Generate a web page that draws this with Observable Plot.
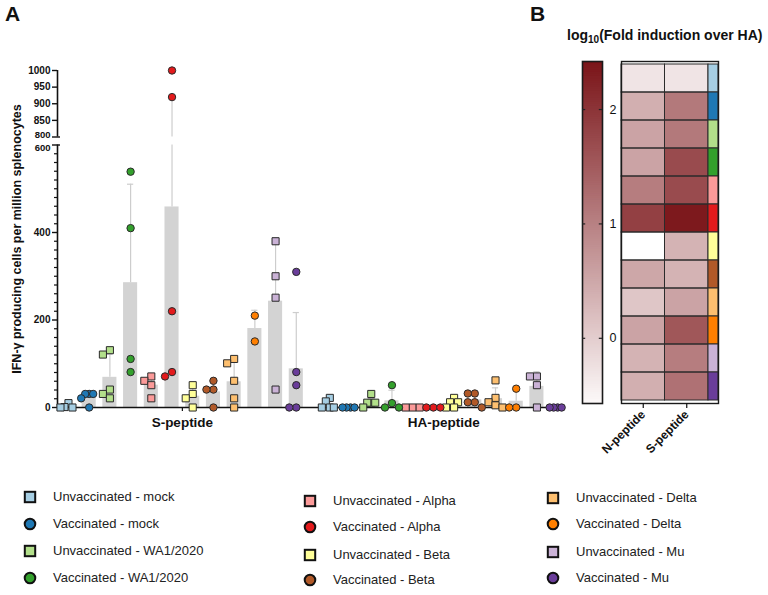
<!DOCTYPE html>
<html><head><meta charset="utf-8">
<script src="https://cdn.jsdelivr.net/npm/d3@7"></script>
<script src="https://cdn.jsdelivr.net/npm/@observablehq/plot@0.6"></script>
<style>
html,body{margin:0;padding:0;background:#fff;}
#root{position:relative;width:768px;height:595px;font-family:"Liberation Sans",Arial,Helvetica,sans-serif;overflow:hidden;color:#111}
.abs{position:absolute}
.panel{font-weight:bold;font-size:21px;line-height:21px}
.ttl{font-weight:bold;font-size:14px;white-space:nowrap;line-height:16px}
.ttl sub{font-size:10px;vertical-align:-3px;line-height:0}
.lg{font-size:13px;line-height:16px;white-space:nowrap;color:#222}
g[aria-label="y-axis tick label"], g[aria-label="x-axis tick label"]{font-weight:bold}
</style></head><body><div id="root"></div>
<script>
// ---------------- data ----------------
const groups = [
  "Unvaccinated - mock", "Vaccinated - mock",
  "Unvaccinated - WA1/2020", "Vaccinated - WA1/2020",
  "Unvaccinated - Alpha", "Vaccinated - Alpha",
  "Unvaccinated - Beta", "Vaccinated - Beta",
  "Unvaccinated - Delta", "Vaccinated - Delta",
  "Unvaccinated - Mu", "Vaccinated - Mu"
];
const groupColors = [
  "#a6cee3", "#1f78b4", "#b2df8a", "#33a02c", "#fb9a99", "#e31a1c",
  "#ffff99", "#b15928", "#fdbf6f", "#ff7f00", "#cab2d6", "#6a3d9a"
];
// IFN-γ producing cells per million splenocytes (one value per mouse)
const sPeptide = [
  [10, 1, 0, 0],
  [31, 31, 31, 21, 0],
  [131, 121, 41, 31, 21],
  [539, 410, 111, 81],
  [71, 61, 51, 21],
  [1000, 920, 220, 81, 71],
  [51, 31, 21, 0],
  [61, 41, 41, 0],
  [111, 101, 61, 21, 0],
  [210, 151],
  [380, 300, 251, 41],
  [310, 81, 51, 0, 0]
];
const haPeptide = [
  [22, 14, 0, 0, 0],
  [0, 0, 0, 0],
  [31, 11, 11, 11, 0],
  [51, 10, 0, 0],
  [0, 0, 0],
  [0, 0, 0],
  [22, 12, 12, 0, 0],
  [32, 32, 12, 12, 0],
  [62, 22, 12, 5, 0],
  [43, 0, 0],
  [71, 71, 51, 0],
  [0, 0, 0, 0]
];
const peptideLabels = ["S-peptide", "HA-peptide"];
const yMajorTicks = [0, 200, 400, 600, 800, 850, 900, 950, 1000];
const yMinorStep = 20;
// Panel B: log10(fold induction over HA)
const heatColumns = ["N-peptide", "S-peptide"];
const heatN = [-0.3, 0.4, 0.55, 0.55, 1.05, 1.85, null, 0.5, 0.1, 0.55, 0.35, 0.4];
const heatS = [-0.3, 1.1, 1.1, 1.7, 1.7, 2.35, 0.35, 0.35, 0.55, 1.55, 1.05, 1.2];
const colorbarTicks = [0, 1, 2];
const colorDomain = [-0.57, 2.42];

// ---------------- layout helpers ----------------
const FONT = '"Liberation Sans", Arial, Helvetica, sans-serif';
const root = document.getElementById("root");
function place(node, left, top) {
  const d = document.createElement("div");
  d.className = "abs"; d.style.left = left + "px"; d.style.top = top + "px";
  d.appendChild(node); root.appendChild(d); return d;
}
function html(cls, text, left, top, isHtml) {
  const d = document.createElement("div");
  d.className = "abs " + cls; d.style.left = left + "px"; d.style.top = top + "px";
  if (isHtml) d.innerHTML = text; else d.textContent = text;
  root.appendChild(d); return d;
}
const vaccinated = groups.map(g => g.startsWith("Vaccinated"));

// broken y axis: linear below 600, compressed above 800
const PX_LOW = 0.4375, PX_HIGH = 0.3325, GAP_PX = 8;
const BREAK_LO = 600, BREAK_HI = 800, YMAX = 1000;
function t(v) {
  if (v <= BREAK_LO) return v;
  return BREAK_LO + GAP_PX / PX_LOW + (Math.max(v, BREAK_HI) - BREAK_HI) * PX_HIGH / PX_LOW;
}
const T_MAX = t(YMAX);

const XPX = 20.71, X0 = -0.53, X1 = 24.0, HA_OFFSET = 12.62;

function dodge(vals) {
  const placed = [], step = 7, dmin = 7;
  const out = vals.map(v => {
    const y = t(v) * PX_LOW;
    for (const k of [0, -1, 1, -2, 2, -3, 3]) {
      const x = k * step;
      if (placed.every(p => (p.x - x) ** 2 + (p.y - y) ** 2 >= dmin * dmin)) { placed.push({x, y}); return x; }
    }
    return 0;
  });
  const m = d3.max(out, Math.abs) || 0;
  const s = m > 8 ? 8 / m : 1;
  return out.map(x => x * s);
}

const stats = [], points = [], errSegs = [], caps = [];
[sPeptide, haPeptide].forEach((arr, p) => arr.forEach((vals, i) => {
  const pos = i + p * HA_OFFSET;
  const mean = d3.mean(vals), sd = vals.length > 1 ? d3.deviation(vals) : 0;
  stats.push({pos, mean, sd});
  const offs = dodge(vals);
  vals.forEach((v, j) => points.push({x: pos + offs[j] / XPX, y: t(v), color: groupColors[i], vacc: vaccinated[i]}));
  if (sd > 0) {
    const top = mean + sd;
    if (top <= BREAK_LO) errSegs.push({x: pos, y1: t(mean), y2: t(top)});
    else {
      errSegs.push({x: pos, y1: t(mean), y2: t(BREAK_LO)});
      if (top >= BREAK_HI) errSegs.push({x: pos, y1: t(BREAK_HI), y2: t(top)});
    }
    caps.push({x: pos, y: t(top)});
  }
}));
// the two labels at the break are drawn apart from the others so they do not collide
const breakLabels = [BREAK_LO, BREAK_HI];
const labelOf = new Map(yMajorTicks.filter(v => !breakLabels.includes(v)).map(v => [t(v), String(v)]));
const minorTicks = d3.range(0, BREAK_LO + 1, yMinorStep).filter(v => !yMajorTicks.includes(v));
const peptideCenters = [5.5, 5.5 + HA_OFFSET];
const axisSegments = [{y1: 0, y2: t(BREAK_LO)}, {y1: t(BREAK_HI), y2: t(YMAX)}];

// ---------------- Panel A ----------------
const plotA = Plot.plot({
  width: 565, height: 440, marginLeft: 57, marginRight: 0, marginTop: 70, marginBottom: 33,
  style: {fontFamily: FONT, fontSize: "10px", color: "#111", background: "transparent", overflow: "visible"},
  x: {domain: [X0, X1], axis: null},
  y: {domain: [0, T_MAX]},
  color: {type: "identity"},
  marks: [
    Plot.rect(stats, {x1: d => d.pos - 0.34, x2: d => d.pos + 0.34, y1: 0, y2: d => t(d.mean), fill: "#d3d3d3"}),
    Plot.ruleX(errSegs, {x: "x", y1: "y1", y2: "y2", stroke: "#cdcdcd", strokeWidth: 1.2}),
    Plot.ruleY(caps, {x1: d => d.x - 0.15, x2: d => d.x + 0.15, y: "y", stroke: "#cdcdcd", strokeWidth: 1.2}),
    Plot.ruleY([0], {x1: X0, x2: X1, stroke: "#111", strokeWidth: 1.6}),
    Plot.ruleX(axisSegments, {x: X0, y1: "y1", y2: "y2", stroke: "#111", strokeWidth: 1.6}),
    Plot.ruleY([t(BREAK_LO), t(BREAK_HI)], {x1: X0, x2: X0 + 3 / XPX, stroke: "#111", strokeWidth: 1.4}),
    Plot.axisY({ticks: yMajorTicks.map(t), tickFormat: d => labelOf.get(d) ?? "", tickSize: 5, tickPadding: 2, fontSize: 10, fontWeight: "bold", label: null, strokeWidth: 1.4}),
    Plot.axisY({ticks: minorTicks.map(t), tickFormat: () => "", tickSize: 3, label: null, strokeWidth: 1.2}),
    Plot.text([BREAK_HI], {x: X0, y: d => t(d), text: d => String(d), dx: -7, dy: -2.5, textAnchor: "end", fontSize: 9.5, fontWeight: "bold"}),
    Plot.text([BREAK_LO], {x: X0, y: d => t(d), text: d => String(d), dx: -7, dy: 2.5, textAnchor: "end", fontSize: 9.5, fontWeight: "bold"}),
    Plot.ruleX(peptideCenters, {x: d => d, y1: 0, y2: -9, stroke: "#111", strokeWidth: 1.2}),
    Plot.text(peptideLabels, {x: (d, i) => peptideCenters[i], y: 0, dy: 15, text: d => d, fontSize: 13.5, fontWeight: "bold"}),
    Plot.text(["IFN-\u03b3 producing cells per million splenocytes"], {frameAnchor: "left", text: d => d, rotate: -90, dx: -41, textAnchor: "middle", fontSize: 12.5, fontWeight: "bold"}),
    Plot.dot(points.filter(d => !d.vacc), {x: "x", y: "y", symbol: "square", r: 4, fill: "color", stroke: "#2a2a2a", strokeWidth: 1}),
    Plot.dot(points.filter(d => d.vacc), {x: "x", y: "y", symbol: "circle", r: 3.7, fill: "color", stroke: "#2a2a2a", strokeWidth: 1})
  ]
});
place(plotA, 0, 0);

// ---------------- Panel B ----------------
const colorOpts = {type: "linear", domain: colorDomain, range: ["#fcf9f9", "#7a1418"], interpolate: "rgb"};
const nSlices = 160;
const sliceStep = (colorDomain[1] - colorDomain[0]) / nSlices;
const slices = d3.range(nSlices).map(k => colorDomain[0] + k * sliceStep);
const colorbar = Plot.plot({
  width: 62, height: 410, marginLeft: 12, marginRight: 30, marginTop: 61, marginBottom: 7,
  style: {fontFamily: FONT, fontSize: "12px", color: "#111", background: "transparent", overflow: "visible"},
  x: {domain: [0, 1], axis: null},
  y: {domain: colorDomain, axis: null},
  color: colorOpts,
  marks: [
    Plot.rect(slices, {x1: 0, x2: 1, y1: d => d, y2: d => Math.min(d + sliceStep * 1.6, colorDomain[1]), fill: d => d + sliceStep / 2}),
    Plot.frame({stroke: "#1a1a1a", strokeWidth: 1.6}),
    Plot.ruleY(colorbarTicks, {x1: 0, x2: 0.16, stroke: "#222", strokeWidth: 1.2}),
    Plot.ruleY(colorbarTicks, {x1: 0.84, x2: 1, stroke: "#222", strokeWidth: 1.2}),
    Plot.text(colorbarTicks, {x: 1, y: d => d, dx: 7, text: d => String(d), textAnchor: "start", fontSize: 12.5})
  ]
});
place(colorbar, 570, 0);

const cells = groups.flatMap((g, i) => [
  {group: g, c: 0, value: heatN[i]},
  {group: g, c: 1, value: heatS[i]}
]);
const STRIP = 0.23;
const heat = Plot.plot({
  width: 130, height: 480, marginLeft: 21, marginRight: 12, marginTop: 61, marginBottom: 77,
  style: {fontFamily: FONT, fontSize: "12px", color: "#111", background: "transparent", overflow: "visible"},
  x: {domain: [0, 2 + STRIP]},
  y: {domain: groups, padding: 0, axis: null},
  color: colorOpts,
  marks: [
    Plot.barX(cells, {x1: "c", x2: d => d.c + 1, y: "group", fill: "white"}),
    Plot.barX(cells.filter(d => d.value != null), {x1: "c", x2: d => d.c + 1, y: "group", fill: "value"}),
    Plot.barX(cells, {x1: "c", x2: d => d.c + 1, y: "group", fill: "none", stroke: "#2b2b2b", strokeWidth: 1}),
    ...groups.map((g, i) => Plot.barX([g], {x1: 2, x2: 2 + STRIP, y: d => d, fill: groupColors[i], stroke: "#2b2b2b", strokeWidth: 1})),
    Plot.frame({stroke: "#1a1a1a", strokeWidth: 1.4}),
    Plot.axisX({ticks: [0.5, 1.5], tickFormat: d => heatColumns[Math.floor(d)], tickSize: 5, tickPadding: 4, tickRotate: -45, fontSize: 12, fontWeight: "bold", label: null, strokeWidth: 1.2})
  ]
});
place(heat, 600, 0);

// ---------------- text & legend ----------------
html("panel", "A", 5, 3);
html("panel", "B", 530, 3);
html("ttl", "log<sub>10</sub>(Fold induction over HA)", 567, 27, true);

const legendCols = [
  {mx: 30, tx: 53, ys: [497, 524, 551, 578]},
  {mx: 310, tx: 333, ys: [501, 527, 555, 580]},
  {mx: 553, tx: 576, ys: [498, 524, 552, 578]}
];
groups.forEach((g, i) => {
  const col = legendCols[Math.floor(i / 4)], y = col.ys[i % 4];
  const ns = "http://www.w3.org/2000/svg";
  const svg = document.createElementNS(ns, "svg");
  svg.setAttribute("width", 14); svg.setAttribute("height", 14);
  const shape = document.createElementNS(ns, vaccinated[i] ? "circle" : "rect");
  if (vaccinated[i]) { shape.setAttribute("cx", 7); shape.setAttribute("cy", 7); shape.setAttribute("r", 5.3); }
  else { shape.setAttribute("x", 1.8); shape.setAttribute("y", 1.8); shape.setAttribute("width", 10.4); shape.setAttribute("height", 10.4); }
  shape.setAttribute("fill", groupColors[i]); shape.setAttribute("stroke", "#111"); shape.setAttribute("stroke-width", 2);
  svg.appendChild(shape);
  const s = place(svg, col.mx - 7, y - 7); s.style.lineHeight = "0";
  html("lg", g, col.tx, y - 8);
});
</script>
</body></html>
